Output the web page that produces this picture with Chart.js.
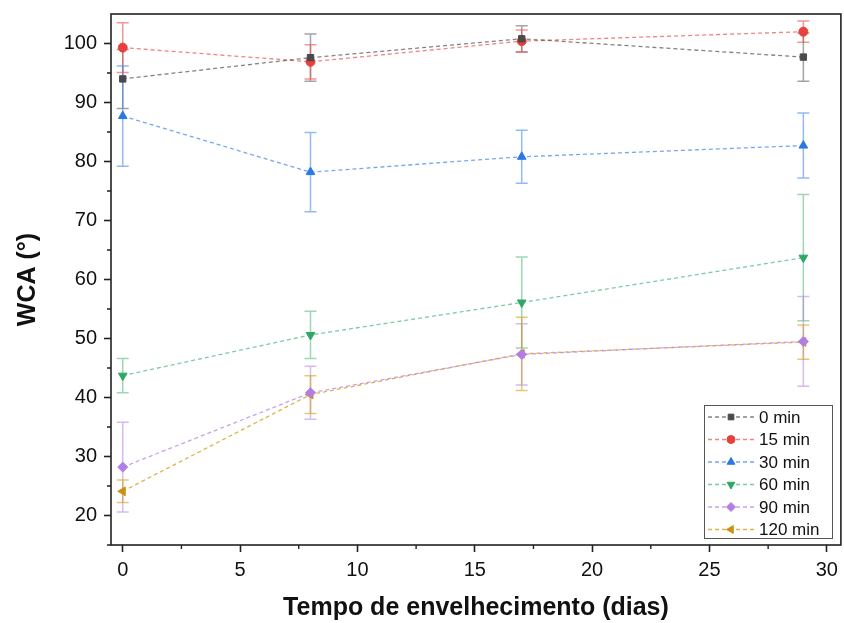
<!DOCTYPE html>
<html>
<head>
<meta charset="utf-8">
<script src="https://cdn.jsdelivr.net/npm/chart.js@4/dist/chart.umd.min.js"></script>
<style>
  html, body { margin: 0; padding: 0; background: #fff; }
  #wrap { width: 844px; height: 623px; }
</style>
</head>
<body>
<div id="wrap"><canvas id="chart" width="844" height="623"></canvas></div>
<script>
// aging time (days)
const days = [0, 8, 17, 29];
const xTicks = [0, 5, 10, 15, 20, 25, 30];
const yTicks = [20, 30, 40, 50, 60, 70, 80, 90, 100];

// water contact angle per treatment time, and its std deviation
const labels = ['0 min', '15 min', '30 min', '60 min', '90 min', '120 min'];
const wca0   = [94.0, 97.6, 100.8, 97.7];
const err0   = [5.0, 4.0, 2.2, 4.1];
const wca15  = [99.3, 96.9, 100.4, 102.0];
const err15  = [4.2, 2.9, 1.9, 1.8];
const wca30  = [87.7, 78.2, 80.8, 82.7];
const err30  = [8.5, 6.7, 4.5, 5.5];
const wca60  = [43.7, 50.6, 56.1, 63.7];
const err60  = [2.9, 4.0, 7.7, 10.7];
const wca90  = [28.2, 40.8, 47.3, 49.5];
const err90  = [7.6, 4.5, 5.2, 7.6];
const wca120 = [24.1, 40.5, 47.4, 49.4];
const err120 = [1.9, 3.2, 6.2, 2.9];

const values = [wca0, wca15, wca30, wca60, wca90, wca120];
const errors = [err0, err15, err30, err60, err90, err120];

const markColors = ['#4a4a4a', '#e8403c', '#2a78e4', '#2ea865', '#b27ee6', '#cc9112'];
const lineColors = ['rgba(90,90,90,0.75)', 'rgba(235,80,80,0.7)', 'rgba(60,130,235,0.7)',
                    'rgba(60,175,110,0.65)', 'rgba(180,130,230,0.75)', 'rgba(215,160,30,0.8)'];
const errColors  = ['rgba(90,90,90,0.55)', 'rgba(235,80,80,0.6)', 'rgba(60,130,235,0.55)',
                    'rgba(60,175,110,0.5)', 'rgba(180,130,230,0.55)', 'rgba(215,160,30,0.6)'];
const styles    = ['rect', 'circle', 'triangle', 'triangle', 'rectRot', 'triangle'];
const rotations = [0, 0, 0, 180, 0, -90];
const radii     = [4.5, 4.5, 5, 5, 5, 5];

const FONT = "'Liberation Sans', Arial, sans-serif";

const datasets = values.map((vals, i) => ({
  label: labels[i],
  data: days.map((d, j) => ({ x: d, y: vals[j] })),
  errs: errors[i],
  borderColor: lineColors[i],
  borderWidth: 1.3,
  borderDash: [4, 3],
  backgroundColor: markColors[i],
  pointBackgroundColor: markColors[i],
  pointBorderColor: markColors[i],
  pointBorderWidth: 1,
  pointStyle: styles[i],
  pointRotation: rotations[i],
  pointRadius: radii[i],
  tension: 0,
  fill: false
}));

// vertical error bars with caps, drawn under the lines and markers
const errorBars = {
  id: 'errorBars',
  beforeDatasetsDraw(chart) {
    const ctx = chart.ctx;
    const ys = chart.scales.y, xs = chart.scales.x;
    ctx.save();
    chart.data.datasets.forEach((ds, i) => {
      ctx.strokeStyle = errColors[i];
      ctx.lineWidth = 1.5;
      ds.data.forEach((p, j) => {
        const px = xs.getPixelForValue(p.x);
        const top = ys.getPixelForValue(p.y + ds.errs[j]);
        const bot = ys.getPixelForValue(p.y - ds.errs[j]);
        ctx.beginPath();
        ctx.moveTo(px, top); ctx.lineTo(px, bot);
        ctx.moveTo(px - 6, top); ctx.lineTo(px + 6, top);
        ctx.moveTo(px - 6, bot); ctx.lineTo(px + 6, bot);
        ctx.stroke();
      });
    });
    ctx.restore();
  }
};

// frame, minor ticks and the legend box inside the plot
const frame = {
  id: 'frame',
  afterDraw(chart) {
    const ctx = chart.ctx;
    const a = chart.chartArea;
    const xs = chart.scales.x, ys = chart.scales.y;
    ctx.save();
    ctx.strokeStyle = '#222';
    ctx.lineWidth = 1.6;
    ctx.strokeRect(a.left, a.top, a.right - a.left, a.bottom - a.top);

    ctx.lineWidth = 1.4;
    ctx.beginPath();
    for (let v = 2.5; v < 30; v += 5) {
      const px = xs.getPixelForValue(v);
      ctx.moveTo(px, a.bottom); ctx.lineTo(px, a.bottom + 4);
    }
    for (let v = 15; v <= 95; v += 10) {
      const py = ys.getPixelForValue(v);
      ctx.moveTo(a.left, py); ctx.lineTo(a.left - 4, py);
    }
    ctx.stroke();

    // legend
    const bx = 704, by = 405, bw = 128, bh = 133;
    ctx.fillStyle = '#fff';
    ctx.fillRect(bx, by, bw, bh);
    ctx.strokeStyle = '#555';
    ctx.lineWidth = 1;
    ctx.strokeRect(bx + 0.5, by + 0.5, bw, bh);
    ctx.font = '17px ' + FONT;
    ctx.textBaseline = 'middle';
    chart.data.datasets.forEach((ds, i) => {
      const ry = by + 12 + i * 22.5;
      ctx.strokeStyle = lineColors[i];
      ctx.lineWidth = 1.3;
      ctx.setLineDash([4, 3]);
      ctx.beginPath();
      ctx.moveTo(bx + 4, ry); ctx.lineTo(bx + 50, ry);
      ctx.stroke();
      ctx.setLineDash([]);
      ctx.fillStyle = markColors[i];
      ctx.strokeStyle = markColors[i];
      ctx.lineWidth = 1;
      Chart.helpers.drawPoint(ctx, {
        pointStyle: styles[i], radius: radii[i] - 0.5, rotation: rotations[i], borderWidth: 1
      }, bx + 27, ry);
      ctx.fillStyle = '#111';
      ctx.fillText(labels[i], bx + 55, ry + 1);
    });
    ctx.restore();
  }
};

new Chart(document.getElementById('chart'), {
  type: 'line',
  data: { datasets },
  options: {
    responsive: false,
    animation: false,
    layout: { autoPadding: false, padding: { top: 14, right: 3, left: 0, bottom: 0 } },
    plugins: { legend: { display: false }, tooltip: { enabled: false } },
    scales: {
      x: {
        type: 'linear',
        min: -0.5,
        max: 30.6,
        afterBuildTicks: s => { s.ticks = xTicks.map(v => ({ value: v })); },
        afterFit: s => { s.height = 78; },
        grid: { drawOnChartArea: false, tickLength: 7, tickWidth: 1.6, tickColor: '#222' },
        border: { display: false },
        ticks: { color: '#111', font: { family: FONT, size: 20 }, padding: 6, maxRotation: 0 },
        title: {
          display: true,
          text: 'Tempo de envelhecimento (dias)',
          color: '#111',
          font: { family: FONT, size: 25, weight: 'bold' },
          padding: { top: 0, bottom: 0 }
        }
      },
      y: {
        min: 15,
        max: 105,
        afterBuildTicks: s => { s.ticks = yTicks.map(v => ({ value: v })); },
        afterFit: s => { s.width = 111; s.paddingTop = 0; s.paddingBottom = 0; },
        grid: { drawOnChartArea: false, tickLength: 7, tickWidth: 1.6, tickColor: '#222' },
        border: { display: false },
        ticks: { color: '#111', font: { family: FONT, size: 20 }, padding: 7 },
        title: {
          display: true,
          text: 'WCA (°)',
          color: '#111',
          font: { family: FONT, size: 25, weight: 'bold' },
          padding: { top: 13, bottom: 0 }
        }
      }
    }
  },
  plugins: [errorBars, frame]
});
</script>
</body>
</html>
